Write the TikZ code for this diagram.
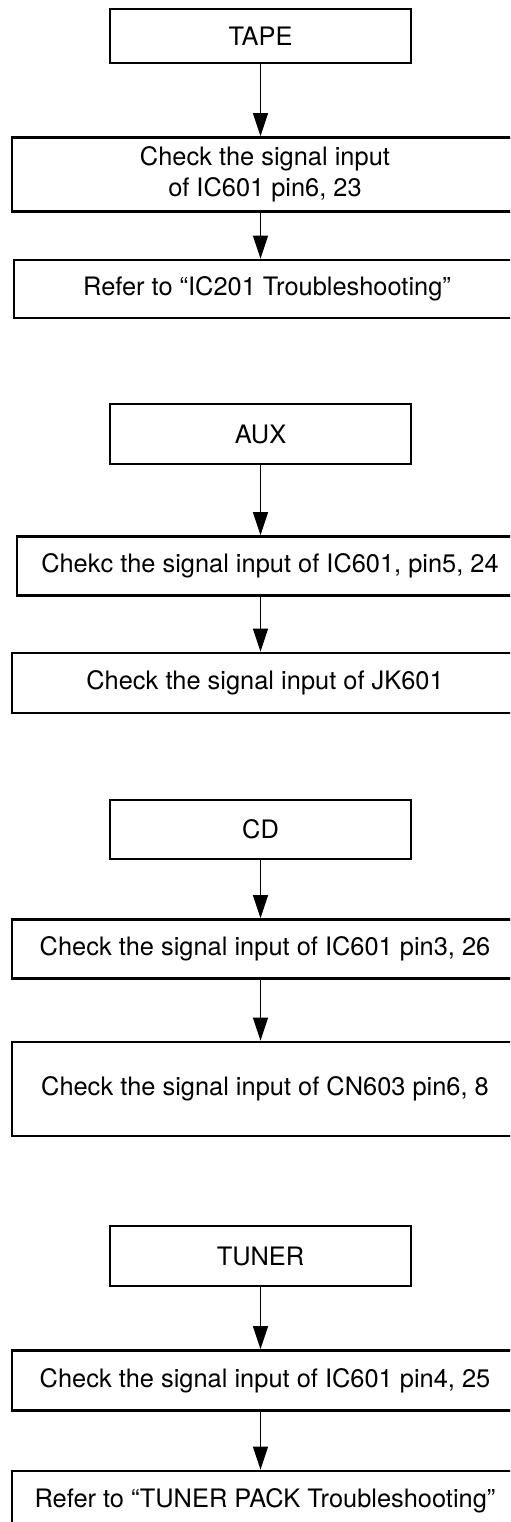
\documentclass[tikz,border=0pt]{standalone}
\usepackage{fontspec}
\setmainfont{TeX Gyre Heros}
\usetikzlibrary{positioning,arrows.meta}

\begin{document}
\begin{tikzpicture}[x=0.5pt,y=-0.5pt,
	head/.style = {draw, line width=1.2pt, minimum width=150.5pt, minimum height=30pt, inner sep=0pt},
	wide/.style = {draw, line width=1.2pt, minimum width=253pt, minimum height=30pt, inner sep=0pt, align=center},
	arr/.style = {line width=0.6pt, -{Triangle[length=11.5pt,width=7.5pt]}},
	font=\fontsize{12.7}{15.5}\selectfont]
	\useasboundingbox (0,0) rectangle (510,1522);
	\clip (0,0) rectangle (510,1522);
	\node[head, minimum height=27pt] (tape) at (260.5,36) {TAPE};
	\node[wide, minimum height=37pt] [below=36pt of tape, xshift=2.25pt] (tapein) {Check the signal input\\of IC601 pin6, 23};
	\node[wide, minimum height=29pt] [below=23pt of tapein, xshift=1pt] (tapeic) {Refer to “IC201 Troubleshooting”};
	\node[head] (aux) at (260.5,434) {AUX};
	\node[wide, minimum height=29.5pt] [below=35pt of aux, xshift=4.75pt] (auxin) {Chekc the signal input of IC601, pin5, 24};
	\node[wide] [below=27.5pt of auxin, xshift=-2.5pt] (auxjk) {Check the signal input of JK601};
	\node[head, minimum height=29.5pt] (cd) at (260.5,829.5) {CD};
	\node[wide, minimum height=29.5pt] [below=29pt of cd, xshift=2.25pt] (cdin) {Check the signal input of IC601 pin3, 26};
	\node[wide, minimum height=47pt] [below=30.5pt of cdin] (cdcn) {Check the signal input of CN603 pin6, 8};
	\node[head] (tuner) at (260.5,1256) {TUNER};
	\node[wide] [below=31pt of tuner, xshift=2.25pt] (tunerin) {Check the signal input of IC601 pin4, 25};
	\node[wide] [below=29pt of tunerin] (tunerpk) {Refer to “TUNER PACK Troubleshooting”};
	\draw[arr] (tape.south) -- (tape.south |- tapein.north);
	\draw[arr] (tape.south |- tapein.south) -- (tape.south |- tapeic.north);
	\draw[arr] (aux.south) -- (aux.south |- auxin.north);
	\draw[arr] (aux.south |- auxin.south) -- (aux.south |- auxjk.north);
	\draw[arr] (cd.south) -- (cd.south |- cdin.north);
	\draw[arr] (cd.south |- cdin.south) -- (cd.south |- cdcn.north);
	\draw[arr] (tuner.south) -- (tuner.south |- tunerin.north);
	\draw[arr] (tuner.south |- tunerin.south) -- (tuner.south |- tunerpk.north);
\end{tikzpicture}
\end{document}
